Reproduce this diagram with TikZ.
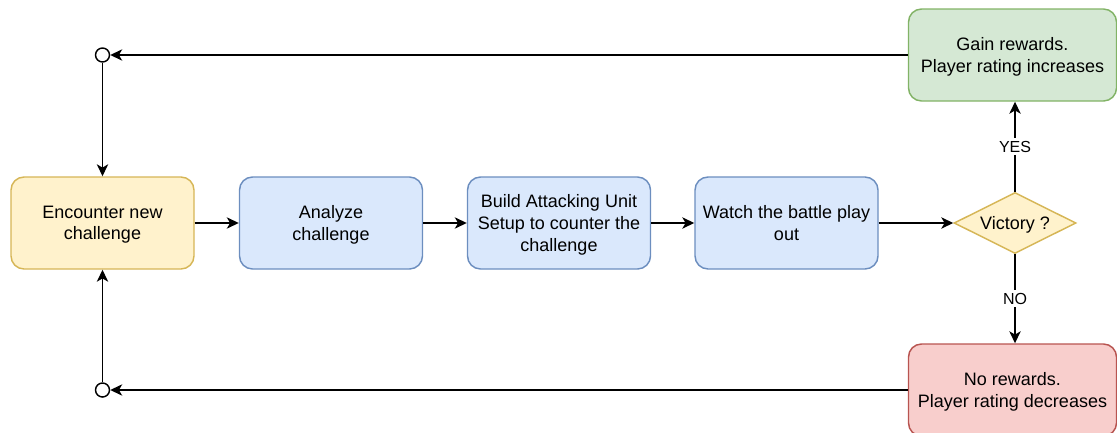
\documentclass[tikz,border=0pt]{standalone}
\usepackage{fontspec}
\setmainfont{Liberation Sans}
\usetikzlibrary{shapes.geometric,arrows.meta}
\definecolor{yfill}{HTML}{FFF2CC}\definecolor{ydraw}{HTML}{D6B656}
\definecolor{bfill}{HTML}{DAE8FC}\definecolor{bdraw}{HTML}{6C8EBF}
\definecolor{gfill}{HTML}{D5E8D4}\definecolor{gdraw}{HTML}{82B366}
\definecolor{rfill}{HTML}{F8CECC}\definecolor{rdraw}{HTML}{B85450}
\tikzset{
  box/.style={rectangle, rounded corners=9.75pt, line width=1.1pt, minimum width=137.25pt, minimum height=69pt,
    inner sep=0pt, align=center, text depth=0pt, font=\fontsize{13.5pt}{16.2pt}\selectfont},
  ybox/.style={box, fill=yfill, draw=ydraw},
  bbox/.style={box, fill=bfill, draw=bdraw},
  gbox/.style={box, fill=gfill, draw=gdraw, minimum width=156pt},
  rbox/.style={box, fill=rfill, draw=rdraw, minimum width=156pt},
  decision/.style={diamond, aspect=2, fill=yfill, draw=ydraw, line width=1.1pt, inner sep=0pt, text depth=0pt,
    minimum width=91.5pt, minimum height=45.75pt, font=\fontsize{13.5pt}{16.2pt}\selectfont},
  junction/.style={circle, draw, fill=white, line width=1.1pt, minimum size=10.5pt, inner sep=0pt},
  arr/.style={line width=1.1pt, -{Stealth[length=9pt, width=8.5pt, inset=2.5pt]}},
  lbl/.style={fill=white, inner sep=2pt, font=\fontsize{12pt}{14pt}\selectfont},
}
\begin{document}
\begin{tikzpicture}[x=0.75pt, y=-0.75pt]
\useasboundingbox (0,0) rectangle (1117,432);
\node[ybox] (enc) at (102.5,223) {Encounter new\\challenge};
\node[bbox] (ana) at (331,223) {Analyze\\challenge};
\node[bbox] (bld) at (559,223) {Build Attacking Unit\\Setup to counter the\\challenge};
\node[bbox] (wat) at (786.5,223) {Watch the battle play\\out};
\node[decision] (dia) at (1015,223) {Victory ?};
\node[gbox] (gain) at (1012.5,55) {Gain rewards.\\Player rating increases};
\node[rbox] (loss) at (1012.5,390) {No rewards.\\Player rating decreases};
\node[junction] (jt) at (102.5,55) {};
\node[junction] (jb) at (102.5,390) {};
\draw[arr] (enc) -- (ana);
\draw[arr] (ana) -- (bld);
\draw[arr] (bld) -- (wat);
\draw[arr] (wat) -- (dia);
\draw[arr] (dia.north) -- node[lbl] {YES} (dia.north |- gain.south);
\draw[arr] (dia.south) -- node[lbl] {NO} (dia.south |- loss.north);
\draw[arr] (gain.west) -- (jt);
\draw[arr] (loss.west) -- (jb);
\draw[arr] (jt) -- (jt |- enc.north);
\draw[arr] (jb) -- (jb |- enc.south);
\end{tikzpicture}
\end{document}
